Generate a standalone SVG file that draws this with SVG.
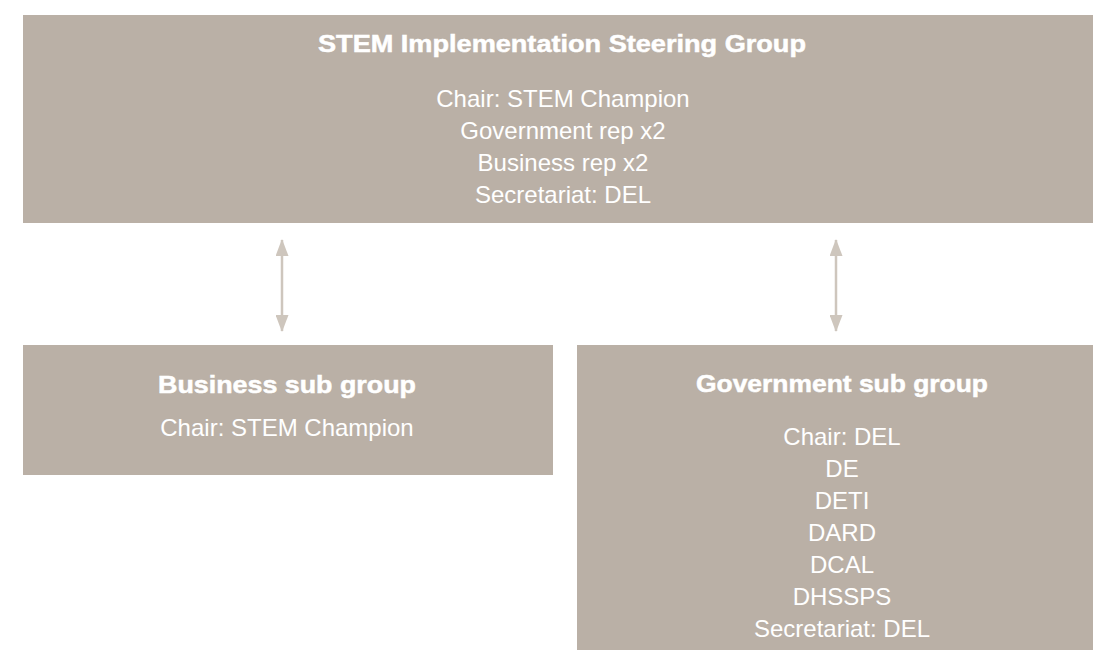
<svg xmlns="http://www.w3.org/2000/svg" width="1093" height="650" viewBox="0 0 1093 650">
  <style>
    .box { fill: #BAB0A6; }
    .title { font-family: "Liberation Sans", Arial, sans-serif; font-weight: bold; font-size: 24px; fill: #ffffff; text-anchor: middle; stroke: #ffffff; stroke-width: 0.5; }
    .body { font-family: "Liberation Sans", Arial, sans-serif; font-size: 24px; fill: #ffffff; text-anchor: middle; }
    .conn { stroke: #CEC6BD; stroke-width: 2.5; fill: none; }
  </style>
  <defs>
    <marker id="ah" markerUnits="userSpaceOnUse" markerWidth="17" markerHeight="13" refX="16" refY="6.5" orient="auto-start-reverse" viewBox="0 0 17 13">
      <path d="M0,0 L17,6.5 L0,13 z" fill="#CEC6BD"/>
    </marker>
  </defs>
  <rect width="1093" height="650" fill="#ffffff"/>

  <g id="steering">
    <rect class="box" x="23" y="15" width="1080" height="208"/>
    <text class="title" x="562" y="52" textLength="488" lengthAdjust="spacingAndGlyphs">STEM Implementation Steering Group</text>
    <text class="body" x="563" y="107">Chair: STEM Champion</text>
    <text class="body" x="563" y="139">Government rep x2</text>
    <text class="body" x="563" y="171">Business rep x2</text>
    <text class="body" x="563" y="203">Secretariat: DEL</text>
  </g>

  <g id="business">
    <rect class="box" x="23" y="345" width="530" height="130"/>
    <text class="title" x="287" y="393" textLength="258" lengthAdjust="spacingAndGlyphs">Business sub group</text>
    <text class="body" x="287" y="436">Chair: STEM Champion</text>
  </g>

  <g id="government">
    <rect class="box" x="577" y="345" width="530" height="310"/>
    <text class="title" x="842" y="392" textLength="292" lengthAdjust="spacingAndGlyphs">Government sub group</text>
    <text class="body" x="842" y="445">Chair: DEL</text>
    <text class="body" x="842" y="477">DE</text>
    <text class="body" x="842" y="509">DETI</text>
    <text class="body" x="842" y="541">DARD</text>
    <text class="body" x="842" y="573">DCAL</text>
    <text class="body" x="842" y="605">DHSSPS</text>
    <text class="body" x="842" y="637">Secretariat: DEL</text>
  </g>

  <g id="connectors">
    <line class="conn" x1="282" y1="240" x2="282" y2="331" marker-start="url(#ah)" marker-end="url(#ah)"/>
    <line class="conn" x1="836" y1="240" x2="836" y2="331" marker-start="url(#ah)" marker-end="url(#ah)"/>
  </g>
</svg>
